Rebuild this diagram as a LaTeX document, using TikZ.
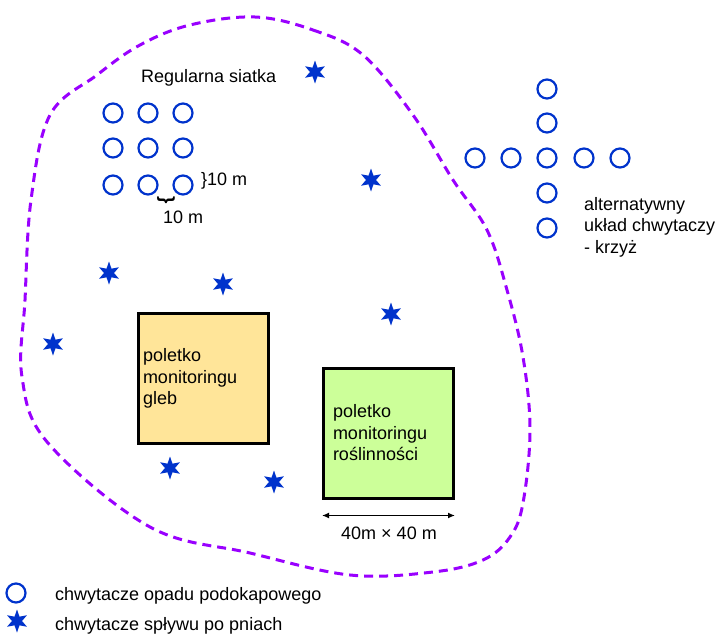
\documentclass[tikz,border=0pt]{standalone}
\usepackage{fontspec}
\setmainfont{Liberation Sans}
\usetikzlibrary{shapes.geometric,arrows.meta}
\definecolor{rblue}{RGB}{0,51,204}
\definecolor{rpurple}{RGB}{153,0,255}
\definecolor{rorange}{RGB}{255,229,153}
\definecolor{rgreen}{RGB}{204,255,153}
\begin{document}
\begin{tikzpicture}[x=1pt,y=-1pt,
  every node/.style={font=\fontsize{18}{21.5}\selectfont},
  trap/.style={circle,draw=rblue,line width=2.2pt,minimum size=19pt,inner sep=0pt},
  flowstar/.style={star,star points=6,star point ratio=2.3,fill=rblue,draw=none,minimum size=23pt,inner sep=0pt},
  plotbox/.style={draw=black,line width=3pt,minimum width=130pt,minimum height=130pt,align=left,inner sep=0pt},
  lbl/.style={inner sep=0pt,align=left},
  boundary/.style={rpurple,line width=3pt,dash pattern=on 9pt off 6pt}]
\useasboundingbox (0,0) rectangle (718,635);

% boundary of the area
\draw[boundary] plot[smooth cycle,tension=0.6] coordinates {
 (255,17) (313,30) (363,55) (413,115) (453,180) (487,230) (507,290) (523,357)
 (530,430) (523,503) (510,537) (483,560) (433,572) (350,575) (250,553) (150,527)
 (48,443) (22,377) (25,300) (31,200) (50,115) (97,75) (140,45) (190,25)};

% regular grid
\node[lbl,anchor=base west] (gridlbl) at (141,82) {Regularna siatka};
\foreach \r/\y in {1/113,2/148,3/185}
  \foreach \c/\x in {1/113,2/148,3/183}
    \node[trap] (g\r\c) at (\x,\y) {};
\node[lbl,anchor=base west] (vdist) at (201,185) {\}10 m};
\node[lbl,rotate=-90,font=\fontsize{19}{21}\selectfont\bfseries] (hbrace) at (166,200) {\}};
\node[lbl,anchor=base west] (hdist) at (163,223) {10 m};

% cross layout
\foreach \i/\y in {1/89,2/123,4/193,5/228}
  \node[trap] (cv\i) at (547,\y) {};
\foreach \i/\x in {1/475,2/511,3/547,4/584,5/620}
  \node[trap] (ch\i) at (\x,158) {};
\node[lbl,anchor=north west] (crosslbl) at (584,197) {alternatywny\\układ chwytaczy\\- krzyż};

% stemflow collectors
\foreach \i/\x/\y in {1/315/72,2/371/180,3/109/273,4/223/284,5/391/314,6/53/344,7/170/468,8/274/482}
  \node[flowstar] (s\i) at (\x,\y) {};

% plots
\node[plotbox,fill=rorange,text width=121pt] (soil) at (203.5,378.5) {poletko\\monitoringu\\gleb};
\node[plotbox,fill=rgreen,text width=111pt] (veg) at (388.5,433) {\raisebox{4pt}{\parbox{111pt}{poletko\\monitoringu\\roślinności}}};
\coordinate (dimL) at ([yshift=-16pt]veg.south west);
\coordinate (dimR) at ([yshift=-16pt]veg.south east);
\draw[line width=1.5pt,{Latex[length=7pt,width=6pt]}-{Latex[length=7pt,width=6pt]}] (dimL) -- (dimR);
\node[lbl] (dimlbl) at (389,533) {40m × 40 m};

% legend
\node[trap] (legc) at (16,593) {};
\node[lbl,anchor=base west] (legctxt) at (55,600) {chwytacze opadu podokapowego};
\node[flowstar] (legs) at (17,621) {};
\node[lbl,anchor=base west] (legstxt) at (55,630) {chwytacze spływu po pniach};
\end{tikzpicture}
\end{document}
